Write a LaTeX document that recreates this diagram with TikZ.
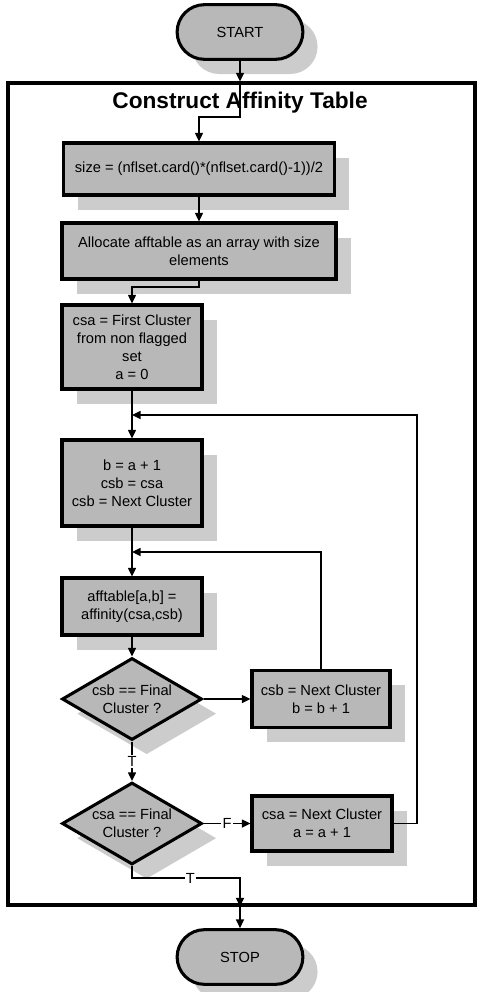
\documentclass[tikz,border=0pt]{standalone}
\usepackage{fontspec}
\setmainfont{Liberation Sans}
\usetikzlibrary{shapes.misc,shapes.geometric,arrows.meta,shadows}
\definecolor{boxgray}{gray}{0.72}
\definecolor{shadegray}{gray}{0.80}
\begin{document}
\begin{tikzpicture}[x=0.75pt,y=-0.75pt,
  every node/.style={font=\fontsize{11}{13.5}\selectfont},
  shade/.style={drop shadow={shadow xshift=11pt,shadow yshift=-11pt,fill=shadegray,opacity=1}},
  procbox/.style={shade,draw=black,line width=2.3pt,fill=boxgray,align=center,inner sep=1pt},
  decision/.style={shade,diamond,draw=black,line width=2.3pt,fill=boxgray,align=center,
    inner sep=0pt,shape aspect=1.7,minimum width=105pt,minimum height=61.5pt},
  terminal/.style={shade,rounded rectangle,draw=black,line width=2.3pt,fill=boxgray,
    minimum width=101pt,minimum height=41pt},
  conn/.style={line width=1.1pt,-{Triangle[length=6.5pt,width=6pt]}},
  lbl/.style={fill=white,inner sep=1pt,font=\fontsize{11}{13}\selectfont}]
\useasboundingbox (0,0) rectangle (481,992);

% enclosing block
\node[draw=black,line width=2.3pt,minimum width=350.25pt,minimum height=616.5pt,inner sep=0pt]
  (frame) at (241.5,494) {};
\node[font=\fontsize{17}{20}\selectfont\bfseries] (title) at (240,103) {Construct Affinity Table};

% terminals
\node[terminal] (start) at (240,32) {START};
\node[terminal] (stop) at (240,957) {STOP};

% process steps
\node[procbox,minimum width=203.25pt,minimum height=39pt] (box1) at (199,169)
  {size = (nflset.card()*(nflset.card()-1))/2};
\node[procbox,minimum width=205.5pt,minimum height=42pt] (box2) at (199,251)
  {Allocate afftable as an array with size\\elements};
\node[procbox,minimum width=105pt,minimum height=63pt] (box3) at (132,347)
  {csa = First Cluster\\from non flagged\\set\\a = 0};
\node[procbox,minimum width=105pt,minimum height=64.5pt] (box4) at (132,483)
  {b = a + 1\\csb = csa\\csb = Next Cluster};
\node[procbox,minimum width=105pt,minimum height=42.75pt] (box5) at (132,606.5)
  {afftable[a,b] =\\affinity(csa,csb)};
\node[decision] (d1) at (132,699) {csb == Final\\Cluster ?};
\node[procbox,minimum width=103.5pt,minimum height=42.75pt] (box6) at (321,699)
  {csb = Next Cluster\\b = b + 1};
\node[decision] (d2) at (132,823.5) {csa == Final\\Cluster ?};
\node[procbox,minimum width=105pt,minimum height=41.25pt] (box7) at (322,823.5)
  {csa = Next Cluster\\a = a + 1};

% routing points
\coordinate (fin) at (start.south |- frame.north);
\coordinate (t1) at (240,117);
\coordinate (j1) at (132,287);
\coordinate (m1) at (132,415);
\coordinate (c1) at (417,415);
\coordinate (m2) at (132,552);
\coordinate (b2) at (240,878);

% connectors
\draw[conn] (start.south) -- (fin);
\draw[conn] (fin) -- (t1) -| (box1.north);
\draw[conn] (box1.south) -- (box2.north);
\draw[conn] (box2.south) |- (j1) -- (box3.north);
\draw[conn] (box3.south) -- (box4.north);
\draw[conn] (box7.east) -| (c1) -- (m1);
\draw[conn] (box4.south) -- (box5.north);
\draw[conn] (box6.north) |- (m2);
\draw[conn] (box5.south) -- (d1.north);
\draw[conn] (d1.east) -- (box6.west);
\draw[conn] (d1.south) -- node[lbl]{T} (d2.north);
\draw[conn] (d2.east) -- node[lbl]{F} (box7.west);
\draw[conn] (d2.south) |- node[lbl,pos=0.77]{T} (b2) -- (b2 |- frame.south);
\draw[conn] (b2 |- frame.south) -- (stop.north);
\end{tikzpicture}
\end{document}
